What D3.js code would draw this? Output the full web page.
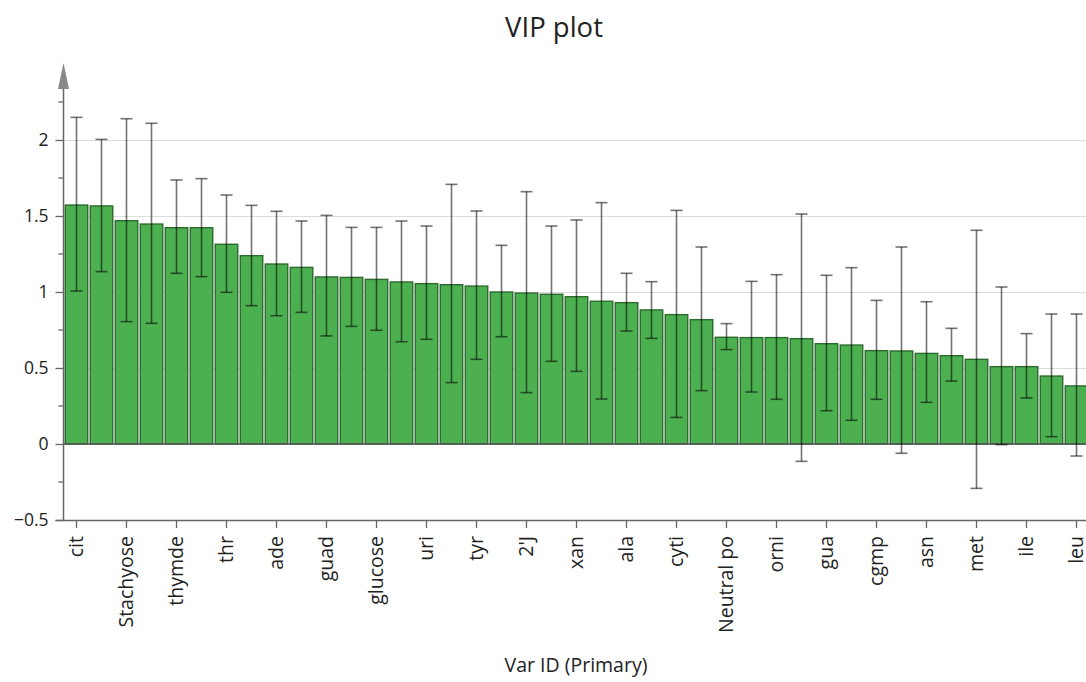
<!DOCTYPE html>
<html>
<head>
<meta charset="utf-8">
<script src="https://cdn.jsdelivr.net/npm/d3@7"></script>
<style>
  html, body { margin: 0; padding: 0; background: #fff; }
  svg { display: block; font-family: "Open Sans", "Noto Sans", sans-serif; }
</style>
</head>
<body>
<svg id="chart" width="1086" height="682"></svg>
<script>
// ---- data ----
const tickLabels = ["cit","Stachyose","thymde","thr","ade","guad","glucose","uri","tyr","2'J","xan","ala","cyti","Neutral po","orni","gua","cgmp","asn","met","ile","leu"];
const vip = [1.572,1.566,1.469,1.447,1.423,1.423,1.314,1.239,1.184,1.162,1.099,1.096,1.083,1.066,1.055,1.048,1.039,1.000,0.993,0.985,0.969,0.939,0.930,0.882,0.851,0.818,0.702,0.700,0.700,0.693,0.660,0.651,0.614,0.612,0.596,0.581,0.557,0.509,0.509,0.447,0.382];
const errHigh = [2.149,2.004,2.140,2.110,1.737,1.746,1.638,1.570,1.531,1.467,1.504,1.425,1.425,1.467,1.434,1.708,1.533,1.307,1.660,1.434,1.474,1.588,1.123,1.068,1.537,1.296,0.792,1.070,1.114,1.513,1.110,1.160,0.945,1.296,0.936,0.761,1.406,1.033,0.726,0.855,0.855];
const errLow = [1.006,1.134,0.805,0.794,1.123,1.101,0.998,0.910,0.844,0.866,0.711,0.774,0.748,0.673,0.689,0.404,0.557,0.706,0.338,0.544,0.478,0.296,0.743,0.695,0.175,0.351,0.621,0.342,0.294,-0.114,0.219,0.156,0.294,-0.061,0.274,0.414,-0.292,-0.004,0.303,0.048,-0.079];
const yTicks = [-0.5, 0, 0.5, 1, 1.5, 2];
const yMinorTicks = [-0.25, 0.25, 0.75, 1.25, 1.75, 2.25];

const svg = d3.select("#chart");
const W = 1086, H = 682;
const left = 63.5;

const idx = d3.range(vip.length);
const x = d3.scaleBand().domain(idx).range([left + 0.5, left + 0.5 + 25 * vip.length]).paddingInner(0.1).paddingOuter(0.05);
const y = d3.scaleLinear().domain([-0.5, 2]).range([520, 140]);

// title
svg.append("text").attr("x", 554).attr("y", 37).attr("text-anchor", "middle")
  .attr("font-size", 27.5).attr("fill", "#222").text("VIP plot");

// gridlines
svg.append("g").selectAll("line").data([0.5, 1, 1.5, 2]).join("line")
  .attr("x1", left).attr("x2", W).attr("y1", d => Math.round(y(d)) + 0.5).attr("y2", d => Math.round(y(d)) + 0.5)
  .attr("stroke", "#dcdcdc").attr("stroke-width", 1.2);

// bars
svg.append("g").selectAll("rect").data(idx).join("rect")
  .attr("x", i => x(i)).attr("width", x.bandwidth())
  .attr("y", i => y(vip[i])).attr("height", i => y(0) - y(vip[i]))
  .attr("fill", "#4caf50").attr("stroke", "#2b6b2e").attr("stroke-width", 1.4);

// zero line
svg.append("line").attr("x1", left).attr("x2", W).attr("y1", y(0)).attr("y2", y(0))
  .attr("stroke", "#555").attr("stroke-width", 1.5);

// error bars
const eg = svg.append("g").attr("stroke", "rgba(0,0,0,0.55)").attr("stroke-width", 1.6);
const cx = i => x(i) + x.bandwidth() / 2;
eg.selectAll("line.v").data(idx).join("line").attr("class", "v")
  .attr("x1", cx).attr("x2", cx).attr("y1", i => y(errHigh[i])).attr("y2", i => y(errLow[i]));
eg.selectAll("line.t").data(idx).join("line").attr("class", "t")
  .attr("x1", i => cx(i) - 6).attr("x2", i => cx(i) + 6).attr("y1", i => y(errHigh[i])).attr("y2", i => y(errHigh[i]));
eg.selectAll("line.b").data(idx).join("line").attr("class", "b")
  .attr("x1", i => cx(i) - 6).attr("x2", i => cx(i) + 6).attr("y1", i => y(errLow[i])).attr("y2", i => y(errLow[i]));

// y axis
const yAxisG = svg.append("g").attr("transform", `translate(${left},0)`);
yAxisG.call(d3.axisLeft(y).tickValues(yTicks).tickSize(8).tickPadding(7).tickFormat(d3.format("")));
yAxisG.select(".domain").remove();
yAxisG.selectAll(".tick line").attr("stroke", "#666").attr("stroke-width", 1.3);
yAxisG.selectAll(".tick text").attr("font-size", 17.5).attr("fill", "#222")
  .attr("font-family", "'Open Sans', sans-serif");
yAxisG.selectAll("line.minor").data(yMinorTicks).join("line").attr("class", "minor")
  .attr("x1", -5).attr("x2", 0).attr("y1", d => y(d)).attr("y2", d => y(d))
  .attr("stroke", "#666").attr("stroke-width", 1.3);
yAxisG.append("line").attr("x1", 0).attr("x2", 0).attr("y1", y(-0.5)).attr("y2", 88)
  .attr("stroke", "#666").attr("stroke-width", 1.5);
yAxisG.append("path").attr("d", "M-5.5,89 L5.5,89 L0,63 Z").attr("fill", "#888");

// x axis
const xAxisG = svg.append("g").attr("transform", `translate(0,${y(-0.5)})`);
xAxisG.call(d3.axisBottom(x).tickValues(idx.filter(i => i % 2 === 0)).tickSize(8).tickPadding(6)
  .tickFormat(i => tickLabels[i / 2]));
xAxisG.select(".domain").attr("d", `M${left - 8},0.5H${W}`).attr("stroke", "#666").attr("stroke-width", 1.5);
xAxisG.selectAll(".tick line").attr("stroke", "#666").attr("stroke-width", 1.3);
xAxisG.selectAll(".tick text").attr("font-size", 19.5).attr("fill", "#222")
  .attr("font-family", "'Open Sans', sans-serif")
  .attr("transform", "rotate(-90)").attr("text-anchor", "end")
  .attr("x", -16).attr("y", 0).attr("dy", "0.35em");

// x axis title
svg.append("text").attr("x", 576).attr("y", 672).attr("text-anchor", "middle")
  .attr("font-size", 19.5).attr("fill", "#222").text("Var ID (Primary)");
</script>
</body>
</html>
